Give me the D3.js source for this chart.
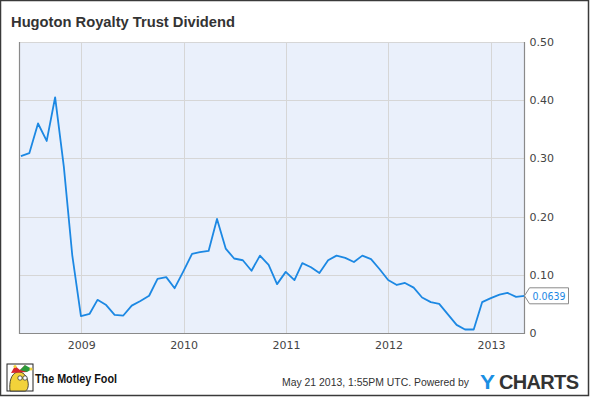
<!DOCTYPE html>
<html><head><meta charset="utf-8">
<script src="https://cdn.jsdelivr.net/npm/d3@7"></script>
<style>
html,body{margin:0;padding:0;background:#fff;}
svg{display:block;}
</style></head>
<body>
<svg id="chart" width="590" height="397"></svg>
<script>
// ---- data (monthly dividend, month-end dates) ----
const startYear = 2008, startMonth = 4; // May 2008 (0-based month)
const dividends = [
  0.304, 0.309, 0.360, 0.330, 0.405, 0.286, 0.134, 0.029,
  0.033, 0.057, 0.048, 0.031, 0.030, 0.047, 0.055, 0.064, 0.093, 0.096, 0.077, 0.106,
  0.136, 0.139, 0.141, 0.196, 0.145, 0.128, 0.125, 0.107, 0.133, 0.117, 0.084, 0.105,
  0.091, 0.120, 0.113, 0.103, 0.125, 0.133, 0.129, 0.122, 0.133, 0.127, 0.110, 0.091,
  0.0825, 0.086, 0.078, 0.061, 0.053, 0.050, 0.032, 0.014, 0.006, 0.006, 0.053, 0.060,
  0.066, 0.069, 0.062, 0.0639
];
const yTicks = [0, 0.10, 0.20, 0.30, 0.40, 0.50];
const yTickLabels = ["0", "0.10", "0.20", "0.30", "0.40", "0.50"];
const xTickYears = [2009, 2010, 2011, 2012, 2013];
const title = "Hugoton Royalty Trust Dividend";
const lastLabel = "0.0639";
const footerText = "May 21 2013, 1:55PM UTC.  Powered by";

const dates = dividends.map((d, i) => new Date(startYear, startMonth + i + 1, 0));
const data = dates.map((d, i) => ({date: d, value: dividends[i]}));

const svg = d3.select("#chart");
const L = 19.5, R = 524.5, T = 42, B = 333;

const x = d3.scaleTime()
  .domain([new Date(2008, 4, 26), new Date(2013, 3, 30)])
  .range([L, R]);
const y = d3.scaleLinear().domain([0, 0.5]).range([B, T]);

// outer frame
svg.append("rect").attr("x", 0.5).attr("y", 0.5).attr("width", 588).attr("height", 395)
  .attr("fill", "#fff").attr("stroke", "#3a3a3a").attr("stroke-width", 1.5);

// plot background
svg.append("rect").attr("x", L).attr("y", T).attr("width", R - L).attr("height", B - T)
  .attr("fill", "#eaf0fb");

// grid
const gridY = svg.append("g");
gridY.selectAll("line").data(yTicks.slice(1)).join("line")
  .attr("x1", L).attr("x2", R)
  .attr("y1", d => Math.round(y(d)) + 0.5).attr("y2", d => Math.round(y(d)) + 0.5)
  .attr("stroke", "#d6d6d6").attr("stroke-width", 1);
const gridX = svg.append("g");
gridX.selectAll("line").data(xTickYears).join("line")
  .attr("x1", d => Math.round(x(new Date(d, 0, 1))) + 0.5)
  .attr("x2", d => Math.round(x(new Date(d, 0, 1))) + 0.5)
  .attr("y1", T).attr("y2", B)
  .attr("stroke", "#d6d6d6").attr("stroke-width", 1);

// plot border (left, bottom, right)
svg.append("path")
  .attr("d", `M${L},${T}V${B + 0.5}H${R}V${T}`)
  .attr("fill", "none").attr("stroke", "#8a8a8a").attr("stroke-width", 1.2);

// right axis labels
const yAxis = d3.axisRight(y).tickValues(yTicks)
  .tickFormat((d, i) => yTickLabels[i]).tickSize(0).tickPadding(5);
const gy = svg.append("g").attr("transform", `translate(${R},0)`).call(yAxis);
gy.select(".domain").remove();
gy.selectAll("text").attr("font-family", "DejaVu Sans, sans-serif")
  .attr("font-size", 11).attr("fill", "#444");

// bottom axis labels
const xAxis = d3.axisBottom(x).tickValues(xTickYears.map(yv => new Date(yv, 0, 1)))
  .tickFormat(d3.timeFormat("%Y")).tickSize(0).tickPadding(8);
const gx = svg.append("g").attr("transform", `translate(0,${B})`).call(xAxis);
gx.select(".domain").remove();
gx.selectAll("text").attr("font-family", "DejaVu Sans, sans-serif")
  .attr("font-size", 11).attr("fill", "#444");

// line
const line = d3.line().x(d => x(d.date)).y(d => y(d.value));
svg.append("path").datum(data).attr("d", line)
  .attr("fill", "none").attr("stroke", "#1c88e3").attr("stroke-width", 1.8)
  .attr("stroke-linejoin", "round");

// last value label
const last = data[data.length - 1];
const lx = x(last.date), ly = y(last.value);
svg.append("path")
  .attr("d", `M${lx},${ly} L${lx + 5},${ly - 8} H${lx + 44} V${ly + 8} H${lx + 5} Z`)
  .attr("fill", "#fff").attr("stroke", "#8a8a8a").attr("stroke-width", 1);
svg.append("text").attr("x", lx + 8).attr("y", ly + 4)
  .attr("font-family", "DejaVu Sans, sans-serif").attr("font-size", 10.5)
  .attr("textLength", 33).attr("lengthAdjust", "spacingAndGlyphs")
  .attr("fill", "#1c88e3").text(lastLabel);

// title
svg.append("text").attr("x", 11).attr("y", 26.5)
  .attr("font-family", "Liberation Sans, Arial, sans-serif").attr("font-weight", "bold")
  .attr("font-size", 15).attr("textLength", 224).attr("lengthAdjust", "spacingAndGlyphs")
  .attr("fill", "#333").text(title);

// footer: Motley Fool logo (approximation)
const logo = svg.append("g").attr("transform", "translate(7,364)");
logo.append("rect").attr("x", 0).attr("y", 0).attr("width", 26).attr("height", 27)
  .attr("fill", "#fff").attr("stroke", "#222").attr("stroke-width", 1);
logo.append("path").attr("d", "M3,27 C2,18 4,10 10,8 C16,7 20,12 21,18 C22,23 20,27 18,27 Z")
  .attr("fill", "#f2d23a").attr("stroke", "#222").attr("stroke-width", 0.8);
logo.append("path").attr("d", "M4,9 L8,2 L13,6 L18,1 L20,8 Z").attr("fill", "#d8262c");
logo.append("path").attr("d", "M13,6 L18,1 L25,5 L20,8 Z").attr("fill", "#2a9a3a");
logo.append("circle").attr("cx", 8).attr("cy", 2.5).attr("r", 1.6).attr("fill", "#f2d23a");
logo.append("circle").attr("cx", 24).attr("cy", 5).attr("r", 1.6).attr("fill", "#f2d23a");
logo.append("circle").attr("cx", 13).attr("cy", 14).attr("r", 2.2).attr("fill", "#fff").attr("stroke", "#222").attr("stroke-width", 0.7);
logo.append("circle").attr("cx", 18).attr("cy", 14).attr("r", 2.2).attr("fill", "#fff").attr("stroke", "#222").attr("stroke-width", 0.7);
svg.append("text").attr("x", 35).attr("y", 383)
  .attr("font-family", "Liberation Sans, Arial, sans-serif").attr("font-weight", "bold")
  .attr("font-size", 12.5).attr("textLength", 82).attr("lengthAdjust", "spacingAndGlyphs")
  .attr("fill", "#111").text("The Motley Fool");

// footer right
svg.append("text").attr("x", 282).attr("y", 386)
  .attr("font-family", "Liberation Sans, Arial, sans-serif")
  .attr("font-size", 10.6).attr("textLength", 187).attr("lengthAdjust", "spacingAndGlyphs")
  .attr("fill", "#333").text(footerText);
svg.append("text").attr("x", 480).attr("y", 389)
  .attr("font-family", "Liberation Sans, Arial, sans-serif").attr("font-weight", "bold")
  .attr("font-size", 20).attr("textLength", 15).attr("lengthAdjust", "spacingAndGlyphs")
  .attr("fill", "#1a8fe3").text("Y");
svg.append("text").attr("x", 499).attr("y", 389)
  .attr("font-family", "Liberation Sans, Arial, sans-serif").attr("font-weight", "bold")
  .attr("font-size", 20).attr("textLength", 80).attr("lengthAdjust", "spacing")
  .attr("fill", "#333").text("CHARTS");
</script>
</body></html>
